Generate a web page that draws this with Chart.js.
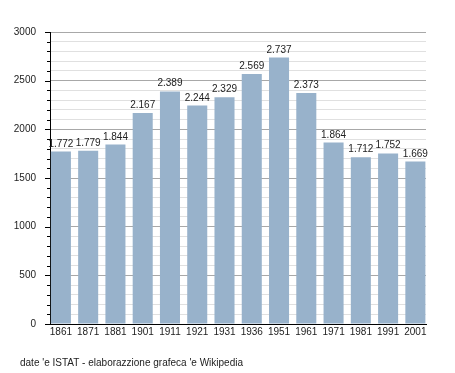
<!DOCTYPE html>
<html><head><meta charset="utf-8">
<script src="https://cdn.jsdelivr.net/npm/chart.js@4/dist/chart.umd.min.js"></script>
<style>html,body{margin:0;padding:0;background:#fff}#wrap{width:455px;height:373px}</style>
</head><body><div id="wrap"><canvas id="c" width="455" height="373"></canvas></div>
<script>
const years = ["1861","1871","1881","1901","1911","1921","1931","1936","1951","1961","1971","1981","1991","2001"];
const population = [1772,1779,1844,2167,2389,2244,2329,2569,2737,2373,1864,1712,1752,1669];
const yMax = 3000;
const yStep = 100;
const yLabelStep = 500;
const footerText = "date 'e ISTAT - elaborazzione grafeca 'e Wikipedia";

const FONT = "'Liberation Sans', Arial, sans-serif";
function fmt(v){ return String(v).replace(/\B(?=(\d{3})+(?!\d))/g, "."); }

const extras = {
  id: 'extras',
  afterDraw(chart){
    const ctx = chart.ctx, y = chart.scales.y, ca = chart.chartArea;
    ctx.save();
    ctx.strokeStyle = '#000'; ctx.lineWidth = 1;
    for (let v = 0; v <= yMax; v += yStep){
      const py = Math.round(y.getPixelForValue(v)) + 0.5;
      const len = (v % yLabelStep === 0) ? 5 : 3;
      ctx.beginPath(); ctx.moveTo(ca.left - len, py); ctx.lineTo(ca.left, py); ctx.stroke();
    }
    ctx.fillStyle = '#222'; ctx.font = '10px ' + FONT;
    ctx.textAlign = 'center'; ctx.textBaseline = 'alphabetic';
    const meta = chart.getDatasetMeta(0);
    meta.data.forEach((bar, i) => {
      ctx.fillText(fmt(population[i]), bar.x, bar.y - 5);
    });
    ctx.textAlign = 'left'; ctx.font = '10px ' + FONT; ctx.fillStyle = '#222';
    ctx.fillText(footerText, 20, 366);
    ctx.restore();
  }
};

new Chart(document.getElementById('c'), {
  type: 'bar',
  data: { labels: years, datasets: [{ data: population, backgroundColor: '#98b2cb', borderWidth: 0, categoryPercentage: 1, barPercentage: 0.735 }] },
  options: {
    responsive: false, animation: false, devicePixelRatio: 1,
    layout: { padding: { top: 32, right: 29, left: 0, bottom: 0 } },
    plugins: { legend: { display: false }, tooltip: { enabled: false } },
    scales: {
      x: {
        grid: { display: false, drawTicks: false },
        border: { display: true, color: '#000', width: 1 },
        ticks: { color: '#222', font: { family: FONT, size: 10 }, maxRotation: 0, autoSkip: false, padding: 2 },
        afterBuildTicks(s){ s._startValue = -0.40; s._valueRange = 13.79; },
        afterFit(s){ s.height = 49; }
      },
      y: {
        min: 0, max: yMax,
        grid: { drawTicks: false, color: c => (c.tick && c.tick.value % yLabelStep === 0) ? '#a8a8a8' : '#e0e0e0' },
        border: { display: true, color: '#000', width: 1 },
        ticks: { stepSize: yStep, autoSkip: false, color: '#222', font: { family: FONT, size: 10 }, padding: 14,
          callback: v => (v % yLabelStep === 0) ? String(v) : '' },
        afterFit(s){ s.width = 50; }
      }
    }
  },
  plugins: [extras]
});
</script></body></html>
